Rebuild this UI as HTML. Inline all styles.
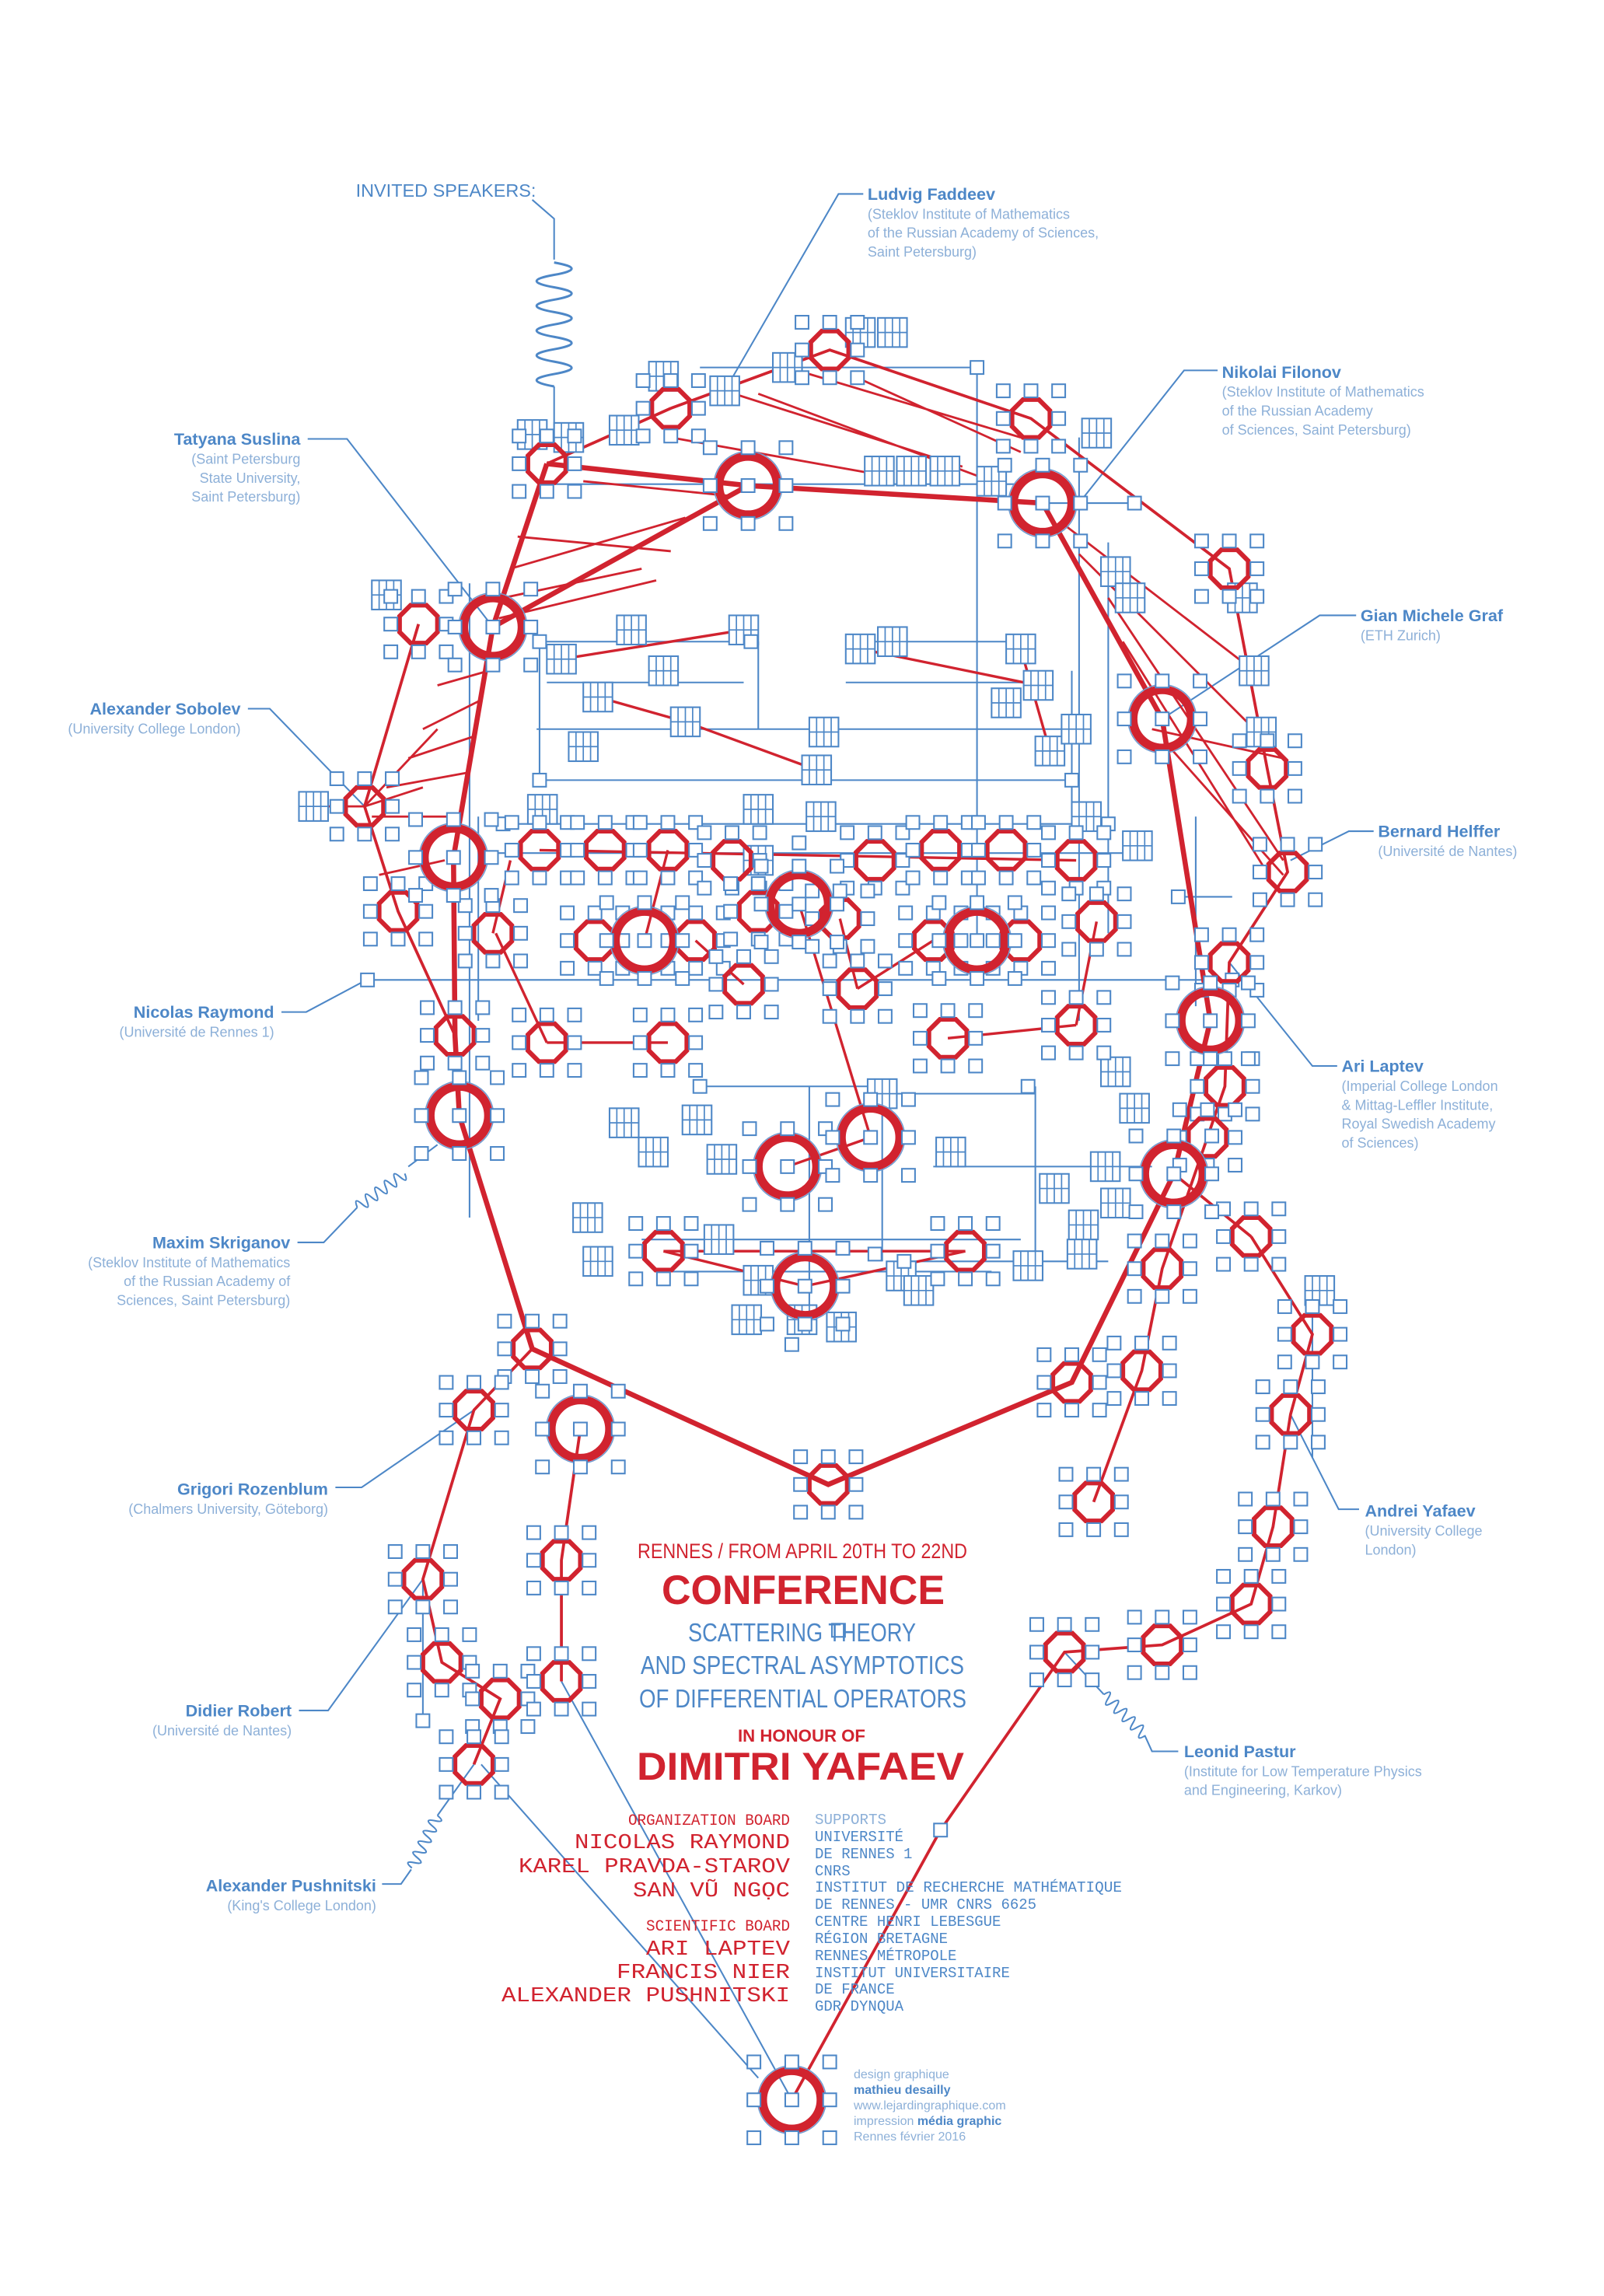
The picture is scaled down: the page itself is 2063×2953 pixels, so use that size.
<!DOCTYPE html>
<html><head><meta charset="utf-8"><style>
html,body{margin:0;padding:0;background:#fff}
svg{display:block}
.nm{font-family:"Liberation Sans Narrow","Liberation Sans",sans-serif;font-weight:bold;font-size:11.5px;fill:#4d87c7}
.af{font-family:"Liberation Sans Narrow","Liberation Sans",sans-serif;font-size:9.6px;fill:#8db0d8}
.r{text-anchor:end}
.mono{font-family:"Liberation Mono",monospace}
.cond{font-family:"Liberation Sans Narrow","Liberation Sans",sans-serif}
</style></head><body>
<svg width="2063" height="2953" viewBox="0 0 2063 2953" xmlns="http://www.w3.org/2000/svg">
<defs>
<g id="o">
<polygon points="5.4,-13 13,-5.4 13,5.4 5.4,13 -5.4,13 -13,5.4 -13,-5.4 -5.4,-13" fill="none" stroke="#d1232f" stroke-width="3.2"/>
<g fill="#fff" stroke="#4d87c7" stroke-width="1.1">
<rect x="-23.5" y="-23.5" width="9" height="9"/><rect x="-4.5" y="-23.5" width="9" height="9"/><rect x="14.5" y="-23.5" width="9" height="9"/>
<rect x="-23.5" y="-4.5" width="9" height="9"/><rect x="14.5" y="-4.5" width="9" height="9"/>
<rect x="-23.5" y="14.5" width="9" height="9"/><rect x="-4.5" y="14.5" width="9" height="9"/><rect x="14.5" y="14.5" width="9" height="9"/>
</g></g>
<g id="O">
<circle r="20" fill="none" stroke="#d1232f" stroke-width="6"/>
<circle r="23.5" fill="none" stroke="#6f9bd0" stroke-width="0.8"/>
<g fill="#fff" stroke="#4d87c7" stroke-width="1.1">
<rect x="-30.5" y="-30.5" width="9" height="9"/><rect x="-4.5" y="-30.5" width="9" height="9"/><rect x="21.5" y="-30.5" width="9" height="9"/>
<rect x="-30.5" y="-4.5" width="9" height="9"/><rect x="21.5" y="-4.5" width="9" height="9"/><rect x="-4.5" y="-4.5" width="9" height="9"/>
<rect x="-30.5" y="21.5" width="9" height="9"/><rect x="-4.5" y="21.5" width="9" height="9"/><rect x="21.5" y="21.5" width="9" height="9"/>
</g></g>
<g id="g"><rect x="-10" y="-10" width="20" height="20" fill="#fff" stroke="#4d87c7" stroke-width="1.1"/><path d="M0,-10V10M-10,0H10M-5,-10V10M5,-10V10" stroke="#4d87c7" stroke-width="0.9"/></g>
<g id="s"><rect x="-4.5" y="-4.5" width="9" height="9" fill="#fff" stroke="#4d87c7" stroke-width="1.1"/></g>
</defs>

<g transform="scale(1.8755)">
<g fill="none" stroke="#4d87c7" stroke-width="1.1">
<path d="M480,252H670M670,252V645M740,300V600M715,345H778M380,332H700M252,672H845M345,565H760M330,585H770M322,400V835M328,560V700M740,590V700M760,372V640"/>
<path d="M370,440H515M375,468H510M582,440H705M580,468H710M368,500H735M370,535H735M370,440V535M735,460V560M520,440V500"/>
<path d="M480,745H605M605,745V865M600,750H710M710,745V860M620,865H760M440,850H700M455,872H680M555,745V905M640,800H790"/>
<path d="M385,1153L543,1440M330,1210L520,1425M290,1083V1180M900,900V1000M820,560V690M808,615H845"/>
<path d="M497,268L575,133H592M740,345L812,254H835M338,430L238,301H211M797,493L905,422H930M250,553L185,486H170M885,590L925,570H942M255,670L210,694H193M843,660L900,731H917M885,970L918,1035H932M325,967L248,1020H230M290,1083L225,1173H205"/>
<path d="M365,137L380,150V178M380,265V295M300,785L280,800M245,828L222,852H204M730,1133L757,1162M785,1190L790,1201H808M325,1210L300,1245M282,1282L275,1292H262"/>
<path d="M380,180q24,4.25 0,8.5t0,8.5t0,8.5t0,8.5t0,8.5t0,8.5t0,8.5t0,8.5t0,8.5t0,8.5" stroke-width="1.6"/>
<path transform="translate(245,828) rotate(-125.5)" d="M0,0q8,2 0,4t0,4t0,4t0,4t0,4t0,4t0,4t0,4t0,4t0,4"/>
<path transform="translate(757,1162) rotate(-45)" d="M0,0q8,2 0,4t0,4t0,4t0,4t0,4t0,4t0,4t0,4t0,4t0,4"/>
<path transform="translate(300,1245) rotate(26)" d="M0,0q8,2 0,4t0,4t0,4t0,4t0,4t0,4t0,4t0,4t0,4t0,4"/>
</g>
<g fill="none" stroke="#d1232f" stroke-width="2">
<path stroke-width="3.5" d="M375,318L513,333L715,345M338,430L513,333M715,345L797,493L830,700L805,805L735,948L568,1018L365,925L315,765L312,710L311,588L338,430L375,318"/>
<path d="M287,428L250,553L273,625L312,710M460,280L569,240L707,287L843,390L869,527L883,598L843,660L840,745L828,780L797,870L783,940L750,1030M858,848L900,915L885,970L873,1047L858,1100L797,1128L730,1133L645,1255L543,1440M365,925L325,967L290,1083L303,1140L343,1165L325,1210M398,980L385,1070L385,1153M805,805L858,848M375,318L460,280"/>
<path stroke-width="1.5" d="M350,390L470,355M355,368L460,378M345,410L440,390M342,424L450,398M497,268L660,320M520,270L680,330M540,252L700,300M590,260L700,310M460,300L600,325M400,330L500,340M300,470L335,460M290,500L330,480M280,520L325,505M265,540L320,530M255,560L315,560M260,600L305,590M730,360L860,460M740,380L860,500M760,410L880,590M770,440L870,600M790,500L880,520M800,510L880,600M250,553L300,500M250,553L290,540M217,553L250,553"/>
<path stroke-width="1.8" d="M548,620L597,780M442,645L458,583M650,712L738,703M375,715L458,715M340,640L375,715M752,632L738,703M455,858L552,882L662,858M455,858L662,858M540,800L597,780M510,675L477,645M588,678L576,630M370,583L738,590M385,452L510,432M410,478L470,495M590,445L712,470M470,495L560,528M700,445L720,515M338,640L350,590M588,678L640,645"/>
</g>
<g>
<use href="#g" x="590" y="228"/><use href="#g" x="612" y="228"/><use href="#g" x="455" y="258"/><use href="#g" x="497" y="268"/><use href="#g" x="540" y="252"/><use href="#g" x="428" y="295"/><use href="#g" x="390" y="300"/><use href="#g" x="603" y="323"/><use href="#g" x="625" y="323"/><use href="#g" x="648" y="323"/><use href="#g" x="680" y="330"/><use href="#g" x="765" y="392"/><use href="#g" x="852" y="410"/><use href="#g" x="860" y="460"/><use href="#g" x="865" y="502"/><use href="#g" x="433" y="432"/><use href="#g" x="510" y="432"/><use href="#g" x="385" y="452"/><use href="#g" x="455" y="460"/><use href="#g" x="410" y="478"/><use href="#g" x="470" y="495"/><use href="#g" x="400" y="512"/><use href="#g" x="560" y="528"/><use href="#g" x="590" y="445"/><use href="#g" x="612" y="440"/><use href="#g" x="700" y="445"/><use href="#g" x="712" y="470"/><use href="#g" x="690" y="482"/><use href="#g" x="720" y="515"/><use href="#g" x="520" y="555"/><use href="#g" x="563" y="560"/><use href="#g" x="372" y="555"/><use href="#g" x="745" y="560"/><use href="#g" x="765" y="735"/><use href="#g" x="778" y="760"/><use href="#g" x="448" y="790"/><use href="#g" x="478" y="768"/><use href="#g" x="605" y="750"/><use href="#g" x="652" y="790"/><use href="#g" x="495" y="795"/><use href="#g" x="428" y="770"/><use href="#g" x="403" y="835"/><use href="#g" x="410" y="865"/><use href="#g" x="493" y="850"/><use href="#g" x="520" y="878"/><use href="#g" x="512" y="905"/><use href="#g" x="550" y="905"/><use href="#g" x="577" y="910"/><use href="#g" x="618" y="875"/><use href="#g" x="630" y="885"/><use href="#g" x="705" y="868"/><use href="#g" x="723" y="815"/><use href="#g" x="743" y="840"/><use href="#g" x="758" y="800"/><use href="#g" x="765" y="825"/><use href="#g" x="742" y="860"/><use href="#g" x="565" y="502"/><use href="#g" x="215" y="553"/><use href="#g" x="265" y="408"/><use href="#g" x="775" y="410"/><use href="#g" x="905" y="885"/><use href="#g" x="738" y="500"/><use href="#g" x="780" y="580"/><use href="#g" x="520" y="590"/><use href="#g" x="752" y="297"/><use href="#g" x="365" y="298"/>
</g>
<g>
<use href="#s" x="670" y="252"/><use href="#s" x="778" y="345"/><use href="#s" x="252" y="672"/><use href="#s" x="845" y="672"/><use href="#s" x="345" y="565"/><use href="#s" x="760" y="565"/><use href="#s" x="548" y="578"/><use href="#s" x="705" y="745"/><use href="#s" x="480" y="745"/><use href="#s" x="620" y="865"/><use href="#s" x="543" y="922"/><use href="#s" x="645" y="1255"/><use href="#s" x="290" y="1180"/><use href="#s" x="370" y="440"/><use href="#s" x="515" y="440"/><use href="#s" x="370" y="535"/><use href="#s" x="735" y="535"/><use href="#s" x="808" y="615"/><use href="#s" x="600" y="860"/><use href="#s" x="575" y="1118"/>
</g>
<g>
<use href="#o" x="460" y="280"/><use href="#o" x="375" y="318"/><use href="#o" x="569" y="240"/><use href="#o" x="707" y="287"/><use href="#o" x="843" y="390"/><use href="#o" x="287" y="428"/><use href="#o" x="869" y="527"/><use href="#o" x="883" y="598"/><use href="#o" x="843" y="660"/><use href="#o" x="250" y="553"/><use href="#o" x="273" y="625"/><use href="#o" x="338" y="640"/>
<use href="#o" x="370" y="583"/><use href="#o" x="415" y="583"/><use href="#o" x="458" y="583"/><use href="#o" x="502" y="590"/><use href="#o" x="600" y="590"/><use href="#o" x="645" y="583"/><use href="#o" x="690" y="583"/><use href="#o" x="738" y="590"/>
<use href="#o" x="408" y="645"/><use href="#o" x="477" y="645"/><use href="#o" x="520" y="625"/><use href="#o" x="576" y="630"/><use href="#o" x="640" y="645"/><use href="#o" x="700" y="645"/><use href="#o" x="752" y="632"/>
<use href="#o" x="510" y="675"/><use href="#o" x="588" y="678"/><use href="#o" x="650" y="712"/><use href="#o" x="738" y="703"/><use href="#o" x="375" y="715"/><use href="#o" x="458" y="715"/><use href="#o" x="312" y="710"/>
<use href="#o" x="840" y="745"/><use href="#o" x="828" y="780"/><use href="#o" x="455" y="858"/><use href="#o" x="662" y="858"/>
<use href="#o" x="858" y="848"/><use href="#o" x="797" y="870"/><use href="#o" x="900" y="915"/><use href="#o" x="885" y="970"/><use href="#o" x="873" y="1047"/><use href="#o" x="858" y="1100"/><use href="#o" x="797" y="1128"/><use href="#o" x="730" y="1133"/>
<use href="#o" x="783" y="940"/><use href="#o" x="750" y="1030"/><use href="#o" x="735" y="948"/>
<use href="#o" x="365" y="925"/><use href="#o" x="325" y="967"/><use href="#o" x="568" y="1018"/>
<use href="#o" x="385" y="1070"/><use href="#o" x="290" y="1083"/><use href="#o" x="303" y="1140"/><use href="#o" x="343" y="1165"/><use href="#o" x="385" y="1153"/><use href="#o" x="325" y="1210"/>
</g>
<g>
<use href="#O" x="513" y="333"/><use href="#O" x="715" y="345"/><use href="#O" x="338" y="430"/><use href="#O" x="797" y="493"/><use href="#O" x="311" y="588"/><use href="#O" x="548" y="620"/><use href="#O" x="442" y="645"/><use href="#O" x="670" y="645"/><use href="#O" x="830" y="700"/><use href="#O" x="540" y="800"/><use href="#O" x="597" y="780"/><use href="#O" x="805" y="805"/><use href="#O" x="552" y="882"/><use href="#O" x="398" y="980"/><use href="#O" x="315" y="765"/><use href="#O" x="543" y="1440"/>
</g>

<text x="244" y="135" class="nm" style="font-weight:normal;font-size:12.5px">INVITED SPEAKERS:</text>
<text x="595" y="137" class="nm">Ludvig Faddeev</text>
<text x="595" y="150" class="af">(Steklov Institute of Mathematics</text>
<text x="595" y="163" class="af">of the Russian Academy of Sciences,</text>
<text x="595" y="176" class="af">Saint Petersburg)</text>
<text x="838" y="259" class="nm">Nikolai Filonov</text>
<text x="838" y="272" class="af">(Steklov Institute of Mathematics</text>
<text x="838" y="285" class="af">of the Russian Academy</text>
<text x="838" y="298" class="af">of Sciences, Saint Petersburg)</text>
<text x="206" y="305" class="nm r">Tatyana Suslina</text>
<text x="206" y="318" class="af r">(Saint Petersburg</text>
<text x="206" y="331" class="af r">State University,</text>
<text x="206" y="344" class="af r">Saint Petersburg)</text>
<text x="933" y="426" class="nm">Gian Michele Graf</text>
<text x="933" y="439" class="af">(ETH Zurich)</text>
<text x="165" y="490" class="nm r">Alexander Sobolev</text>
<text x="165" y="503" class="af r">(University College London)</text>
<text x="945" y="574" class="nm">Bernard Helffer</text>
<text x="945" y="587" class="af">(Université de Nantes)</text>
<text x="188" y="698" class="nm r">Nicolas Raymond</text>
<text x="188" y="711" class="af r">(Université de Rennes 1)</text>
<text x="920" y="735" class="nm">Ari Laptev</text>
<text x="920" y="748" class="af">(Imperial College London</text>
<text x="920" y="761" class="af">&amp; Mittag-Leffler Institute,</text>
<text x="920" y="774" class="af">Royal Swedish Academy</text>
<text x="920" y="787" class="af">of Sciences)</text>
<text x="199" y="856" class="nm r">Maxim Skriganov</text>
<text x="199" y="869" class="af r">(Steklov Institute of Mathematics</text>
<text x="199" y="882" class="af r">of the Russian Academy of</text>
<text x="199" y="895" class="af r">Sciences, Saint Petersburg)</text>
<text x="225" y="1025" class="nm r">Grigori Rozenblum</text>
<text x="225" y="1038" class="af r">(Chalmers University, Göteborg)</text>
<text x="936" y="1040" class="nm">Andrei Yafaev</text>
<text x="936" y="1053" class="af">(University College</text>
<text x="936" y="1066" class="af">London)</text>
<text x="200" y="1177" class="nm r">Didier Robert</text>
<text x="200" y="1190" class="af r">(Université de Nantes)</text>
<text x="812" y="1205" class="nm">Leonid Pastur</text>
<text x="812" y="1218" class="af">(Institute for Low Temperature Physics</text>
<text x="812" y="1231" class="af">and Engineering, Karkov)</text>
<text x="258" y="1297" class="nm r">Alexander Pushnitski</text>
<text x="258" y="1310" class="af r">(King's College London)</text>
</g>

<g fill="#d1232f">
<text x="820" y="2004" class="cond" font-size="27" textLength="424" lengthAdjust="spacingAndGlyphs">RENNES /  FROM APRIL 20TH TO 22ND</text>
<text x="851" y="2063" font-family="Liberation Sans,sans-serif" font-weight="bold" font-size="53" textLength="364" lengthAdjust="spacingAndGlyphs">CONFERENCE</text>
<text x="949" y="2240" font-family="Liberation Sans,sans-serif" font-weight="bold" font-size="22" textLength="164" lengthAdjust="spacingAndGlyphs">IN HONOUR OF</text>
<text x="819" y="2289" font-family="Liberation Sans,sans-serif" font-weight="bold" font-size="50" textLength="421" lengthAdjust="spacingAndGlyphs">DIMITRI YAFAEV</text>
</g>
<g fill="#4d87c7" class="cond" font-size="33">
<text x="885" y="2111" textLength="293" lengthAdjust="spacingAndGlyphs">SCATTERING THEORY</text>
<text x="824" y="2153" textLength="416" lengthAdjust="spacingAndGlyphs">AND SPECTRAL ASYMPTOTICS</text>
<text x="822" y="2196" textLength="421" lengthAdjust="spacingAndGlyphs">OF DIFFERENTIAL OPERATORS</text>
</g>
<g fill="#d1232f" class="mono">
<text x="808" y="2347" font-size="20" textLength="208" lengthAdjust="spacingAndGlyphs">ORGANIZATION BOARD</text>
<text x="739" y="2377" font-size="27" textLength="277" lengthAdjust="spacingAndGlyphs">NICOLAS RAYMOND</text>
<text x="667" y="2408" font-size="27" textLength="349" lengthAdjust="spacingAndGlyphs">KAREL PRAVDA-STAROV</text>
<text x="814" y="2439" font-size="27" textLength="202" lengthAdjust="spacingAndGlyphs">SAN VŨ NGỌC</text>
<text x="831" y="2483" font-size="20" textLength="185" lengthAdjust="spacingAndGlyphs">SCIENTIFIC BOARD</text>
<text x="831" y="2514" font-size="27" textLength="185" lengthAdjust="spacingAndGlyphs">ARI LAPTEV</text>
<text x="793" y="2544" font-size="27" textLength="223" lengthAdjust="spacingAndGlyphs">FRANCIS NIER</text>
<text x="645" y="2574" font-size="27" textLength="371" lengthAdjust="spacingAndGlyphs">ALEXANDER PUSHNITSKI</text>
</g>
<g fill="#4d87c7" class="mono" font-size="19">
<text x="1048" y="2346" fill="#8db0d8" textLength="92" lengthAdjust="spacingAndGlyphs">SUPPORTS</text>
<text x="1048" y="2368">UNIVERSITÉ</text>
<text x="1048" y="2390">DE RENNES 1</text>
<text x="1048" y="2412">CNRS</text>
<text x="1048" y="2433" textLength="395" lengthAdjust="spacingAndGlyphs">INSTITUT DE RECHERCHE MATHÉMATIQUE</text>
<text x="1048" y="2455">DE RENNES - UMR CNRS 6625</text>
<text x="1048" y="2477">CENTRE HENRI LEBESGUE</text>
<text x="1048" y="2499">RÉGION BRETAGNE</text>
<text x="1048" y="2521">RENNES MÉTROPOLE</text>
<text x="1048" y="2543">INSTITUT UNIVERSITAIRE</text>
<text x="1048" y="2564">DE FRANCE</text>
<text x="1048" y="2586">GDR DYNQUA</text>
</g>
<g font-family="Liberation Sans,sans-serif" font-size="16">
<text x="1098" y="2673" fill="#8db0d8">design graphique</text>
<text x="1098" y="2693" fill="#4d87c7" font-weight="bold">mathieu desailly</text>
<text x="1098" y="2713" fill="#8db0d8">www.lejardingraphique.com</text>
<text x="1098" y="2733" fill="#8db0d8">impression <tspan fill="#4d87c7" font-weight="bold">média graphic</tspan></text>
<text x="1098" y="2753" fill="#8db0d8">Rennes février 2016</text>
</g>
</svg>
</body></html>
